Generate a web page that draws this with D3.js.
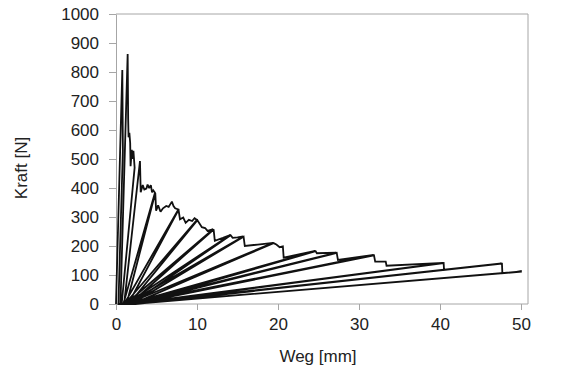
<!DOCTYPE html>
<html>
<head>
<meta charset="utf-8">
<script src="https://cdn.jsdelivr.net/npm/d3@7"></script>
<style>
  body { margin: 0; background: #fff; }
  svg text { font-family: Arial, "Liberation Sans", sans-serif; fill: #222; }
</style>
</head>
<body>
<div id="container"></div>
<script>
// chart size
const width = 576,
  height = 371,
  margin = { top: 14, left: 116, bottom: 67, right: 48 };

// tick values
const xTicks = [0, 10, 20, 30, 40, 50];
const yTicks = [0, 100, 200, 300, 400, 500, 600, 700, 800, 900, 1000];

// measured path: Weg [mm] and Kraft [N], point by point
const weg = [
  0, 0.78, 0.85, 0.3, 0.55,
  1.44, 1.5, 1.55, 1.65, 1.75, 1.8, 1.95, 2.05, 2.15, 2.3, 0.7, 1.0,
  2.96, 3.05, 3.3, 3.5, 3.75, 3.9, 4.1, 4.3, 4.45, 4.6,
  4.81, 0.9, 1.3, 4.85,
  4.95, 5.2, 5.5, 5.8, 6.2, 6.5, 6.9, 7.1, 7.3,
  7.7, 1.0, 1.5, 7.72,
  7.9, 8.3, 8.6, 9.0, 9.4, 9.7,
  10.0, 1.1, 1.6, 10.05,
  10.6, 11.0, 11.3, 12.0, 1.2, 1.7, 12.05, 12.2, 13.2,
  14.1, 1.2, 1.8, 14.15,
  14.4, 15.0, 15.7, 1.3, 1.9, 15.75, 15.9, 17.5,
  19.4, 1.3, 2.0, 19.45,
  19.8, 20.2, 20.6, 20.7,
  24.6, 1.4, 2.1, 24.65,
  24.8, 27.2, 1.5, 2.1, 27.25, 27.4,
  31.8, 1.5, 2.2, 31.85,
  32.0, 33.3, 33.4,
  40.4, 1.6, 2.3, 40.45,
  40.5,
  47.6, 1.8, 2.4, 47.65,
  47.7, 50.1, 2.0
];
const kraft = [
  0, 807, 530, 0, 0,
  862, 640, 575, 590, 555, 475, 532, 500, 528, 470, 0, 0,
  493, 385, 410, 395, 398, 412, 400, 410, 385, 392,
  384, 0, 0, 383,
  322, 340, 318, 330, 338, 335, 353, 338, 330,
  326, 0, 0, 325,
  292, 298, 280, 290, 286, 296,
  290, 0, 0, 289,
  265, 262, 252, 258, 0, 0, 257, 218, 228,
  238, 0, 0, 237,
  228, 230, 233, 0, 0, 232, 200, 205,
  211, 0, 0, 210,
  205, 196, 199, 160,
  183, 0, 0, 182,
  175, 177, 0, 0, 176, 152,
  169, 0, 0, 168,
  146, 146, 132,
  142, 0, 0, 141,
  117,
  140, 0, 0, 139,
  106, 112, 0
];

const data = weg.map((w, i) => ({ weg: w, kraft: kraft[i] }));

const svg = d3.select("#container")
  .append("svg")
  .attr("width", width)
  .attr("height", height);

const xScale = d3.scaleLinear()
  .domain([0, 50])
  .range([margin.left, 521]);

const yScale = d3.scaleLinear()
  .domain([0, 1000])
  .range([height - margin.bottom, margin.top]);

const axisColor = "#a6a6a6";

// frame on top and right
svg.append("line")
  .attr("x1", margin.left).attr("x2", width - margin.right)
  .attr("y1", yScale(1000)).attr("y2", yScale(1000))
  .attr("stroke", axisColor);
svg.append("line")
  .attr("x1", width - margin.right).attr("x2", width - margin.right)
  .attr("y1", yScale(1000)).attr("y2", yScale(0))
  .attr("stroke", axisColor);

// x axis
const xAxis = svg.append("g")
  .attr("transform", `translate(0,${yScale(0)})`)
  .call(d3.axisBottom(xScale).tickValues(xTicks).tickSize(6).tickPadding(8).tickSizeOuter(0));
xAxis.select(".domain").attr("stroke", axisColor).attr("d", `M${margin.left},0H${width - margin.right}`);
xAxis.selectAll(".tick line").attr("stroke", axisColor);
xAxis.selectAll("text").style("font-size", "17px").attr("fill", "#222");

// y axis
const yAxis = svg.append("g")
  .attr("transform", `translate(${margin.left},0)`)
  .call(d3.axisLeft(yScale).tickValues(yTicks).tickFormat(d3.format("d")).tickSize(7).tickPadding(10).tickSizeOuter(0));
yAxis.select(".domain").attr("stroke", axisColor);
yAxis.selectAll(".tick line").attr("stroke", axisColor);
yAxis.selectAll("text").style("font-size", "17px").attr("fill", "#222");

// curve
const line = d3.line()
  .x(d => xScale(d.weg))
  .y(d => yScale(d.kraft));

svg.append("path")
  .datum(data)
  .attr("d", line)
  .attr("fill", "none")
  .attr("stroke", "#111")
  .attr("stroke-width", 1.8)
  .attr("stroke-linejoin", "miter")
  .attr("stroke-miterlimit", 2);

// axis titles
svg.append("text")
  .attr("x", 318)
  .attr("y", 362)
  .attr("text-anchor", "middle")
  .style("font-size", "17px")
  .text("Weg [mm]");

svg.append("text")
  .attr("transform", "translate(27,168) rotate(-90)")
  .attr("text-anchor", "middle")
  .style("font-size", "17px")
  .text("Kraft [N]");
</script>
</body>
</html>
